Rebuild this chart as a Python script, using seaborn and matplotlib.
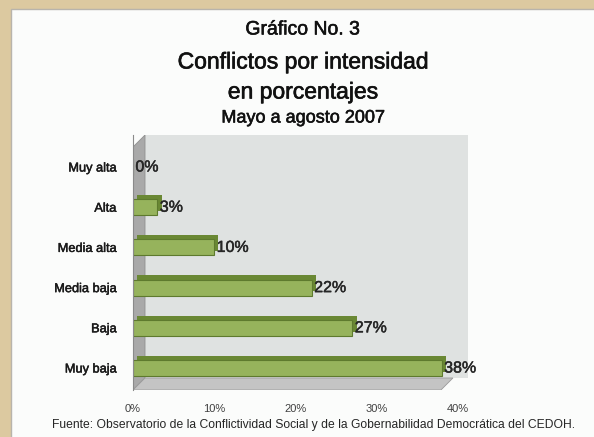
import matplotlib
matplotlib.use("Agg")
import matplotlib.pyplot as plt
import matplotlib.patheffects as pe
from matplotlib.patches import Polygon, Rectangle
import seaborn as sns
import pandas as pd

categorias = ["Muy alta", "Alta", "Media alta", "Media baja", "Baja", "Muy baja"]
porcentajes = [0, 3, 10, 22, 27, 38]
ticks_x = [0, 10, 20, 30, 40]
etiquetas_x = ["0%", "10%", "20%", "30%", "40%"]

df = pd.DataFrame({"Intensidad": categorias, "Porcentaje": porcentajes})

sns.set_style("white")
FAM = ["Liberation Sans", "DejaVu Sans"]
plt.rcParams["font.family"] = FAM


def heavy(color, lw=0.5):
    return [pe.withStroke(linewidth=lw, foreground=color)]


W, H = 594, 437
fig = plt.figure(figsize=(W / 100, H / 100), dpi=100)
fig.patch.set_facecolor("#dcc9a0")

# white sheet behind everything
fig.patches.append(Rectangle((11 / W, -0.01), 1, 1.01 - 9 / H, transform=fig.transFigure,
                             facecolor="#fbfcfb", edgecolor="#b8b4ac", lw=1.0, zorder=-5))

# plot region in pixels
x0, x1 = 133, 468
y_top, y_bot = 135, 390
ax = fig.add_axes([x0 / W, 1 - y_bot / H, (x1 - x0) / W, (y_bot - y_top) / H])
ax.set_facecolor("none")
ax.set_zorder(1)

# 3-D style box: back wall, left wall, floor (in axes fractions)
dx = 12 / (x1 - x0)
dy = 12 / (y_bot - y_top)
ax.add_patch(Rectangle((dx, dy), 1 - dx, 1 - dy, transform=ax.transAxes,
                       facecolor="#dfe2e1", edgecolor="none", zorder=0))
ax.add_patch(Polygon([(0, 0), (dx, dy), (dx, 1), (0, 1 - dy)], closed=True,
                     transform=ax.transAxes, facecolor="#a9a9a9",
                     edgecolor="#8f8f8f", lw=0.6, zorder=0.5))
ax.add_patch(Polygon([(0, 0), (dx, dy), (1 - 0.045, dy), (1 - 0.045 - dx, 0)], closed=True,
                     transform=ax.transAxes, facecolor="#c4c4c4",
                     edgecolor="#9a9a9a", lw=0.6, zorder=0.5))
n_deco = len(ax.patches)

sns.barplot(data=df, x="Porcentaje", y="Intensidad", orient="h", ax=ax,
            color="#96b35c", width=0.4, edgecolor="#5e7a2e", linewidth=0.8,
            saturation=1, zorder=2)

for bar in ax.patches[n_deco:]:
    bar.set_path_effects([
        pe.SimplePatchShadow(offset=(3, 3), shadow_rgbFace="#6a8834", alpha=1.0),
        pe.Normal(),
    ])

# value labels
for i, v in enumerate(porcentajes):
    ax.text(v + 0.3, i, f"{v}%", va="center", ha="left", fontsize=11.5,
            color="#262626", zorder=5, path_effects=heavy("#262626", 0.35))

px_per_unit = (458 - x0) / 40
ax.set_xlim(0, (x1 - x0) / px_per_unit)
pitch = (368 - 167) / 5
ax.set_ylim(5 + (y_bot - 368) / pitch, -(167 - y_top) / pitch)

ax.set_xticks(ticks_x)
ax.set_xticklabels(etiquetas_x, fontsize=8, color="#404040")
ax.tick_params(axis="x", length=0, pad=10)
ax.set_yticks(range(len(categorias)))
ax.set_yticklabels(categorias, fontsize=9.2, color="#1a1a1a")
for t in ax.get_yticklabels():
    t.set_path_effects(heavy("#1a1a1a", 0.35))
ax.tick_params(axis="y", which="major", length=0, pad=12)
ax.set_yticks([i + 0.5 for i in range(-1, 6)], minor=True)
ax.tick_params(axis="y", which="minor", length=6, width=0.8, color="#8a8a8a")
for s in ["top", "right", "bottom"]:
    ax.spines[s].set_visible(False)
ax.spines["left"].set_color("#8a8a8a")
ax.spines["left"].set_linewidth(0.8)
ax.set_xlabel("")
ax.set_ylabel("")
ax.grid(False)

# titles
cx = 303 / W
tc = "#111111"
fig.text(cx, 1 - 30 / H, "Gráfico No. 3", ha="center", va="center", fontsize=14,
         color=tc, path_effects=heavy(tc, 0.4))
fig.text(cx, 1 - 62 / H, "Conflictos por intensidad", ha="center", va="center", fontsize=16.5,
         color=tc, path_effects=heavy(tc, 0.45))
fig.text(cx, 1 - 92 / H, "en porcentajes", ha="center", va="center", fontsize=16.5,
         color=tc, path_effects=heavy(tc, 0.45))
fig.text(cx, 1 - 118 / H, "Mayo a agosto 2007", ha="center", va="center", fontsize=13,
         color=tc, path_effects=heavy(tc, 0.4))

fig.text(314 / W, 1 - 425 / H,
         "Fuente: Observatorio de la Conflictividad Social y de la Gobernabilidad Democrática del CEDOH.",
         ha="center", va="center", fontsize=8.75, color="#262626")

fig.savefig("out.png", dpi=100, facecolor=fig.get_facecolor())
